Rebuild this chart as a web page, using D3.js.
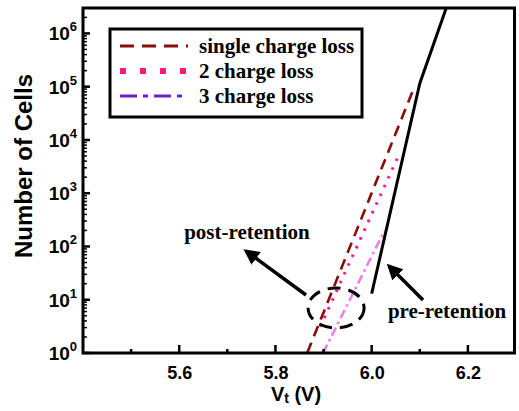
<!DOCTYPE html>
<html>
<head>
<meta charset="utf-8">
<script src="https://cdn.jsdelivr.net/npm/d3@7"></script>
<style>
  html, body { margin: 0; padding: 0; background: #fff; }
  svg { display: block; }
</style>
</head>
<body>
<svg id="chart" width="519" height="411"></svg>
<script>
// ---------- data ----------
const xDomain = [5.4, 6.3];
const yDomain = [1, 3e6];
const xTickValues = [5.6, 5.8, 6.0, 6.2];
const xMinorTickValues = [5.5, 5.7, 5.9, 6.1];
const yTickExponents = [0, 1, 2, 3, 4, 5, 6];
const seriesNames = ["single charge loss", "2 charge loss", "3 charge loss"];

const preRetention = [[6.0, 13], [6.1, 1.15e5], [6.155, 3e6]];
const singleChargeLoss = [[5.866, 1], [6.089, 1e5]];
const twoChargeLoss = [[5.893, 3.1], [6.058, 5.6e3]];
const threeChargeLoss = [[5.899, 1], [6.027, 2.0e2]];

const annotationLabels = ["post-retention", "pre-retention"];

// ---------- layout ----------
const W = 519, H = 411;
const margin = { left: 83, right: 3, top: 8, bottom: 58 };
const svg = d3.select("#chart");

const x = d3.scaleLinear().domain(xDomain).range([margin.left, W - margin.right]);
const y = d3.scaleLog().domain(yDomain).range([H - margin.bottom, margin.top]);

const sans = "'Liberation Sans', Arial, sans-serif";
const serif = "'Liberation Serif', 'Times New Roman', serif";

svg.append("defs").append("clipPath").attr("id", "clip")
  .append("rect")
  .attr("x", margin.left).attr("y", margin.top)
  .attr("width", W - margin.left - margin.right)
  .attr("height", H - margin.top - margin.bottom);

const line = d3.line().x(d => x(d[0])).y(d => y(d[1]));
const plot = svg.append("g").attr("clip-path", "url(#clip)");

// series styles
const styles = [
  { data: singleChargeLoss, color: "#8b0a0a", dash: "11,7", width: 2.6 },
  { data: twoChargeLoss, color: "#ff1a8c", dash: "2.6,7", width: 3 },
  { data: threeChargeLoss, color: "#f07cf0", dash: "9,4,2.5,4", width: 2.6 }
];
styles.forEach(s => {
  plot.append("path").datum(s.data)
    .attr("d", line).attr("fill", "none")
    .attr("stroke", s.color).attr("stroke-width", s.width)
    .attr("stroke-dasharray", s.dash);
});
plot.append("path").datum(preRetention)
  .attr("d", line).attr("fill", "none")
  .attr("stroke", "#000").attr("stroke-width", 3);

// ---------- axes ----------
const bottomY = H - margin.bottom;
const xAxis = d3.axisBottom(x).tickValues(xTickValues).tickSize(0).tickPadding(13)
  .tickFormat(d3.format(".1f"));
const gx = svg.append("g").attr("transform", `translate(0,${bottomY})`).call(xAxis);
gx.select(".domain").remove();
gx.selectAll("text").attr("font-family", sans).attr("font-weight", "bold")
  .attr("font-size", 18).attr("fill", "#000");

// x ticks inward
svg.append("g").selectAll("line").data(xTickValues).join("line")
  .attr("x1", d => x(d)).attr("x2", d => x(d))
  .attr("y1", bottomY).attr("y2", bottomY - 8)
  .attr("stroke", "#000").attr("stroke-width", 2.5);
svg.append("g").selectAll("line").data(xMinorTickValues).join("line")
  .attr("x1", d => x(d)).attr("x2", d => x(d))
  .attr("y1", bottomY).attr("y2", bottomY - 4)
  .attr("stroke", "#000").attr("stroke-width", 2.5);

// y ticks inward (major + log minors)
const yMajor = yTickExponents.map(e => Math.pow(10, e));
const yMinor = [];
yTickExponents.forEach(e => { for (let k = 2; k <= 9; k++) { const v = k * Math.pow(10, e); if (v <= yDomain[1]) yMinor.push(v); } });
svg.append("g").selectAll("line").data(yMajor).join("line")
  .attr("x1", margin.left).attr("x2", margin.left + 7)
  .attr("y1", d => y(d)).attr("y2", d => y(d))
  .attr("stroke", "#000").attr("stroke-width", 2.5);
svg.append("g").selectAll("line").data(yMinor).join("line")
  .attr("x1", margin.left).attr("x2", margin.left + 4)
  .attr("y1", d => y(d)).attr("y2", d => y(d))
  .attr("stroke", "#000").attr("stroke-width", 1.5);

// y labels with superscripts
const yl = svg.append("g").selectAll("text").data(yTickExponents).join("text")
  .attr("x", margin.left - 6).attr("y", d => y(Math.pow(10, d)) + 7)
  .attr("text-anchor", "end")
  .attr("font-family", sans).attr("font-weight", "bold").attr("font-size", 19);
yl.append("tspan").text("10");
yl.append("tspan").attr("dy", -9).attr("font-size", 13).text(d => d);

// frame
svg.append("rect")
  .attr("x", margin.left).attr("y", margin.top)
  .attr("width", W - margin.left - margin.right - 1.5)
  .attr("height", H - margin.top - margin.bottom)
  .attr("fill", "none").attr("stroke", "#000").attr("stroke-width", 3);

// axis titles
const xt = svg.append("text").attr("x", 296).attr("y", 401).attr("text-anchor", "middle")
  .attr("font-family", sans).attr("font-weight", "bold").attr("font-size", 20);
xt.append("tspan").text("V");
xt.append("tspan").attr("font-size", 14).attr("dy", 2).text("t");
xt.append("tspan").attr("dy", -2).text(" (V)");

svg.append("text")
  .attr("transform", `translate(32,166) rotate(-90)`)
  .attr("text-anchor", "middle")
  .attr("font-family", sans).attr("font-weight", "bold").attr("font-size", 24)
  .text("Number of Cells");

// ---------- legend ----------
const lg = svg.append("g");
lg.append("rect").attr("x", 110).attr("y", 29).attr("width", 252).attr("height", 88)
  .attr("fill", "#fff").attr("stroke", "#000").attr("stroke-width", 3);
const legendStyles = [
  { color: "#8b0a0a", dash: "14,8", width: 3 },
  { color: "#ff1a75", dash: "6,14", width: 6 },
  { color: "#6a1fd6", dash: "17,6,5,6", width: 3 }
];
seriesNames.forEach((name, i) => {
  const ly = 46 + i * 25;
  lg.append("line").attr("x1", 120).attr("x2", 188).attr("y1", ly).attr("y2", ly)
    .attr("stroke", legendStyles[i].color).attr("stroke-width", legendStyles[i].width)
    .attr("stroke-dasharray", legendStyles[i].dash);
  lg.append("text").attr("x", 199).attr("y", ly + 7)
    .attr("font-family", serif).attr("font-weight", "bold").attr("font-size", 21)
    .text(name);
});

// ---------- annotations ----------
svg.append("defs").append("marker").attr("id", "arrow")
  .attr("viewBox", "0 0 10 10").attr("refX", 8).attr("refY", 5)
  .attr("markerWidth", 4.5).attr("markerHeight", 4.5).attr("orient", "auto")
  .append("path").attr("d", "M0,0 L10,5 L0,10 z").attr("fill", "#000");

// dashed ellipse around post-retention lines
svg.append("ellipse")
  .attr("cx", x(5.926)).attr("cy", y(7))
  .attr("rx", 28).attr("ry", 20)
  .attr("fill", "none").attr("stroke", "#000").attr("stroke-width", 3)
  .attr("stroke-dasharray", "13,8");

svg.append("line").attr("x1", 306).attr("y1", 295).attr("x2", 246).attr("y2", 251)
  .attr("stroke", "#000").attr("stroke-width", 3.5).attr("marker-end", "url(#arrow)");
svg.append("line").attr("x1", 423).attr("y1", 300).attr("x2", 389).attr("y2", 266)
  .attr("stroke", "#000").attr("stroke-width", 3.5).attr("marker-end", "url(#arrow)");

svg.append("text").attr("x", 247).attr("y", 239).attr("text-anchor", "middle")
  .attr("font-family", serif).attr("font-weight", "bold").attr("font-size", 21)
  .text(annotationLabels[0]);
svg.append("text").attr("x", 447).attr("y", 318).attr("text-anchor", "middle")
  .attr("font-family", serif).attr("font-weight", "bold").attr("font-size", 21)
  .text(annotationLabels[1]);
</script>
</body>
</html>
